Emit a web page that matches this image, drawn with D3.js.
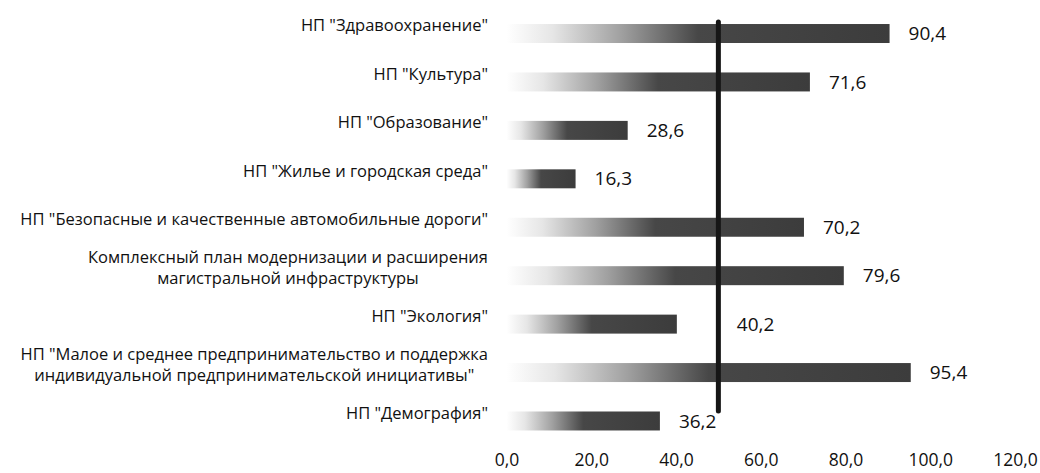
<!DOCTYPE html>
<html>
<head>
<meta charset="utf-8">
<script src="https://cdn.jsdelivr.net/npm/d3@7"></script>
<style>
  html, body { margin: 0; padding: 0; background: #fff; }
  svg { display: block; }
</style>
</head>
<body>
<svg id="chart" width="1040" height="473"></svg>
<script>
// ---- data ----
const categories = [
  ["НП \"Здравоохранение\""],
  ["НП \"Культура\""],
  ["НП \"Образование\""],
  ["НП \"Жилье и городская среда\""],
  ["НП \"Безопасные и качественные автомобильные дороги\""],
  ["Комплексный план модернизации и расширения", "магистральной инфраструктуры"],
  ["НП \"Экология\""],
  ["НП \"Малое и среднее предпринимательство и поддержка", "индивидуальной предпринимательской инициативы\""],
  ["НП \"Демография\""]
];
const values = [90.4, 71.6, 28.6, 16.3, 70.2, 79.6, 40.2, 95.4, 36.2];
const xTicks = [0, 20, 40, 60, 80, 100, 120];
const referenceValue = 50;

// ---- layout ----
const svg = d3.select("#chart");
const fmt = v => d3.format(".1f")(v).replace(".", ",");
const keys = categories.map((c, i) => i);

const x = d3.scaleLinear().domain([0, 120]).range([506.5, 1015]);
const y = d3.scaleBand().domain(keys).range([9.3, 445.2])
  .paddingInner(0.608).paddingOuter(0.304);

const defs = svg.append("defs");
const grad = defs.append("linearGradient").attr("id", "barGrad")
  .attr("x1", "0").attr("x2", "1").attr("y1", "0").attr("y2", "0");
grad.append("stop").attr("offset", "0").attr("stop-color", "#ffffff");
grad.append("stop").attr("offset", "0.12").attr("stop-color", "#e6e6e6");
grad.append("stop").attr("offset", "0.3").attr("stop-color", "#a0a0a0");
grad.append("stop").attr("offset", "0.5").attr("stop-color", "#474747");
grad.append("stop").attr("offset", "1").attr("stop-color", "#3c3c3c");

// bars
svg.append("g").selectAll("rect").data(values).join("rect")
  .attr("x", x(0))
  .attr("y", (d, i) => y(i))
  .attr("width", d => x(d) - x(0))
  .attr("height", y.bandwidth())
  .attr("fill", "url(#barGrad)");

// reference line
svg.append("line")
  .attr("x1", x(referenceValue)).attr("x2", x(referenceValue))
  .attr("y1", 22).attr("y2", 411)
  .attr("stroke", "#161616").attr("stroke-width", 5)
  .attr("stroke-linecap", "round");

// data labels
const labelNudge = {6: 41};
svg.append("g").selectAll("text").data(values).join("text")
  .attr("x", (d, i) => x(d) + 19 + (labelNudge[i] || 0))
  .attr("y", (d, i) => y(i) + y.bandwidth() / 2)
  .attr("dy", "0.35em")
  .attr("font-family", "'Open Sans', sans-serif")
  .attr("font-size", 19)
  .attr("fill", "#111")
  .text(d => fmt(d));

// category labels
const labelRight = 488;
const lineH = 21;
const catG = svg.append("g")
  .attr("font-family", "'Open Sans', sans-serif")
  .attr("font-size", 16.5)
  .attr("fill", "#111");
categories.forEach((lines, i) => {
  const cy = y(i) + y.bandwidth() / 2 - 8;
  const t = catG.append("text").attr("text-anchor", "middle");
  lines.forEach((ln, j) => {
    t.append("tspan")
      .attr("x", 0)
      .attr("y", cy + (j - (lines.length - 1) / 2) * lineH)
      .attr("dy", "0.35em").text(ln);
  });
  const w = d3.max(t.selectAll("tspan").nodes(), n => n.getComputedTextLength());
  t.selectAll("tspan").attr("x", labelRight - w / 2);
});

// x axis
const axis = d3.axisBottom(x).tickValues(xTicks).tickSize(0).tickFormat(fmt);
const ax = svg.append("g").attr("transform", "translate(0,451)").call(axis);
ax.select(".domain").remove();
ax.selectAll("text")
  .attr("font-family", "'Open Sans', sans-serif")
  .attr("font-size", 17.5)
  .attr("fill", "#111");
</script>
</body>
</html>
